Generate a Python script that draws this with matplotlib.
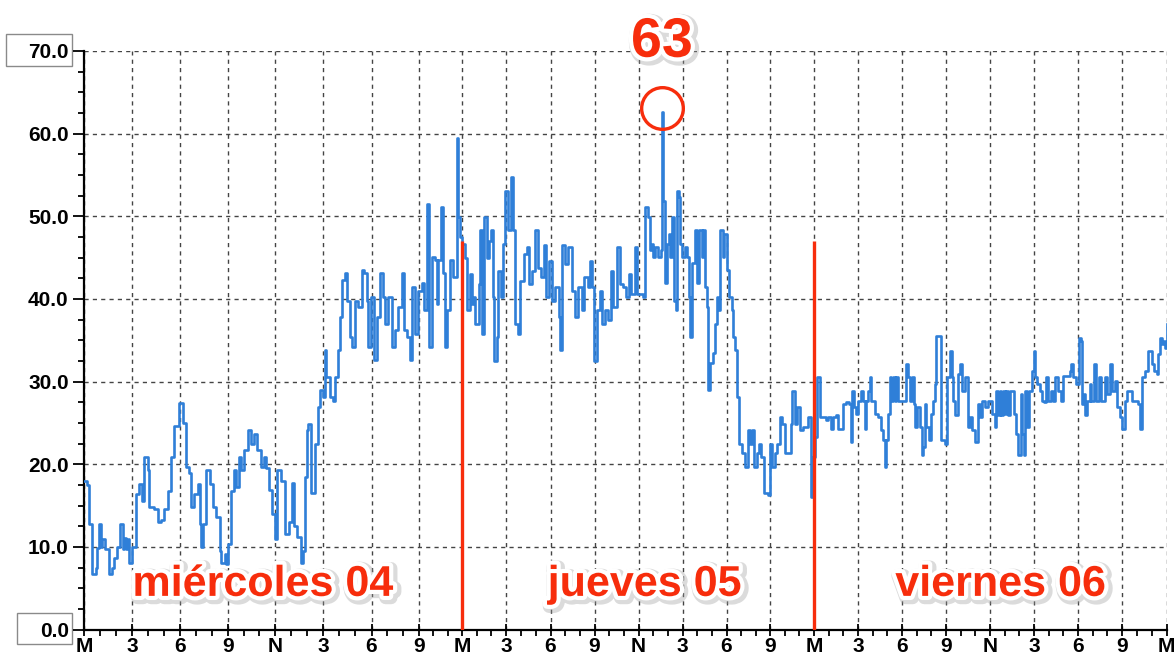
import numpy as np
import matplotlib
matplotlib.use("Agg")
import matplotlib.pyplot as plt
import matplotlib.patheffects as pe
from matplotlib.patches import Rectangle
from matplotlib.transforms import blended_transform_factory

# --- data (hours since Wednesday 00:00, level) ---
hours_d1 = [0.0, 0.17, 0.31, 0.52, 0.73, 0.84, 0.94, 1.05, 1.15, 1.30, 1.57, 1.72, 1.88, 2.09,
            2.26, 2.41, 2.51, 2.62, 2.72, 2.82, 3.03, 3.24, 3.45, 3.60, 3.77, 3.97, 4.08, 4.39,
            4.60, 4.81, 5.02, 5.23, 5.44, 5.65, 5.96, 6.17, 6.38, 6.59, 6.69, 6.90, 7.11, 7.22,
            7.32, 7.43, 7.64, 7.85, 8.05, 8.26, 8.47, 8.58, 8.79, 8.89, 9.00, 9.21, 9.41, 9.52,
            9.73, 9.83, 10.04, 10.25, 10.46, 10.67, 10.88, 11.09, 11.30, 11.45, 11.6, 11.8, 12.0,
            12.15, 12.4, 12.6, 12.85, 13.05, 13.2, 13.4, 13.6, 13.75, 13.86, 13.97, 14.07, 14.28,
            14.48, 14.69, 14.80, 15.0, 15.11, 15.21, 15.42, 15.63, 15.73, 15.94, 16.04, 16.19,
            16.35, 16.46, 16.67, 16.81, 16.98, 17.19, 17.40, 17.56, 17.71, 17.81, 17.98, 18.13,
            18.33, 18.54, 18.75, 18.85, 19.06, 19.27, 19.48, 19.69, 19.90, 20.06, 20.27, 20.42,
            20.56, 20.73, 20.94, 21.19, 21.37, 21.53, 21.70, 21.88, 22.12, 22.23, 22.35, 22.51,
            22.70, 22.81, 22.93, 23.16, 23.40, 23.63, 23.74, 23.85]
level_d1 = [18.0, 17.5, 12.8, 6.7, 7.5, 9.9, 12.8, 10.0, 11.0, 9.7, 6.7, 7.5, 8.7, 10.0,
            12.8, 9.7, 11.1, 9.7, 11.0, 8.1, 10.0, 16.4, 17.6, 15.6, 20.9, 19.3, 14.8, 14.6,
            13.0, 13.2, 14.6, 16.8, 20.9, 24.6, 27.4, 25.0, 19.7, 18.9, 14.8, 16.4, 17.6, 12.8,
            10.0, 12.8, 19.3, 17.6, 14.8, 13.6, 9.5, 8.1, 9.1, 7.9, 10.3, 16.8, 19.3, 17.3,
            20.9, 19.3, 21.7, 24.1, 22.5, 23.7, 21.7, 19.7, 20.9, 19.5, 16.9, 14.0, 11.0,
            19.3, 18.0, 11.5, 13.0, 17.7, 12.5, 11.2, 8.0, 9.5, 18.5, 24.1, 24.9, 16.5,
            22.5, 26.9, 29.0, 28.1, 33.8, 30.6, 28.1, 27.7, 30.6, 33.8, 37.8, 42.3,
            43.1, 39.8, 35.4, 34.2, 39.8, 39.0, 43.5, 43.1, 39.8, 34.2, 40.2, 32.6,
            37.8, 43.1, 40.2, 37.0, 40.2, 34.2, 36.2, 39.0, 43.1, 36.2, 35.4, 32.6,
            41.4, 35.8, 41.0, 41.9, 38.6, 51.5, 34.2, 45.1, 44.7, 39.4, 44.7, 51.1,
            43.1, 34.2, 38.6, 44.7, 42.7, 59.5, 49.9, 47.5]

hours_d2 = [23.98, 24.23, 24.34, 24.56, 24.68, 24.79, 24.90, 25.13, 25.24, 25.35, 25.53, 25.69,
            25.81, 25.99, 26.08, 26.21, 26.37, 26.48, 26.66, 26.82, 26.93, 27.16, 27.34, 27.50,
            27.61, 27.79, 27.95, 28.18, 28.40, 28.56, 28.74, 28.97, 29.19, 29.37, 29.53, 29.69,
            29.87, 30.09, 30.32, 30.55, 30.66, 30.77, 31.0, 31.22, 31.45, 31.67, 31.90, 32.13,
            32.31, 32.53, 32.69, 32.85, 32.98, 33.14, 33.37, 33.48, 33.71, 33.93, 34.11, 34.27,
            34.50, 34.72, 34.95, 35.17, 35.33, 35.51, 35.74, 35.92, 36.11, 36.34, 36.45, 36.64,
            36.80, 36.91, 37.02, 37.14, 37.36, 37.55, 37.59, 37.70, 37.82, 37.93, 38.05, 38.16,
            38.27, 38.39, 38.55, 38.61, 38.73, 38.84, 38.95, 39.14, 39.30, 39.41, 39.52, 39.64,
            39.82, 39.98, 40.14, 40.32, 40.43, 40.55, 40.66, 40.77, 40.89, 41.05, 41.23, 41.34,
            41.45, 41.57, 41.73, 41.86, 42.02, 42.14, 42.36, 42.48, 42.59, 42.70, 42.86, 43.05,
            43.27, 43.45, 43.61, 43.77, 43.91, 44.07, 44.23, 44.41, 44.59, 44.86, 44.98, 45.14,
            45.32, 45.50, 45.66, 45.82, 46.0, 46.18, 46.41, 46.5, 46.68, 46.86, 47.02, 47.25,
            47.48, 47.59, 47.77, 47.93]
level_d2 = [46.7, 45.0, 38.6, 43.0, 39.4, 40.2, 37.0, 41.8, 48.3, 35.8, 49.9, 45.0,
            47.0, 48.3, 40.2, 32.5, 35.4, 43.4, 40.2, 46.7, 53.1, 48.3, 54.7, 48.3,
            37.0, 35.8, 42.2, 45.4, 46.3, 41.8, 43.4, 48.3, 43.8, 42.6, 46.5, 40.2,
            44.6, 39.8, 41.4, 37.8, 33.8, 46.5, 44.2, 46.3, 41.0, 37.8, 41.4, 38.6,
            42.6, 41.4, 44.6, 41.4, 32.5, 38.6, 41.0, 37.0, 38.6, 37.4, 43.4, 39.0,
            46.3, 41.8, 41.4, 40.2, 43.0, 40.6, 46.3, 40.6, 40.6, 40.2, 51.1, 49.9,
            45.9, 46.7, 45.1, 46.3, 45.1, 45.9, 62.6, 51.9, 41.9, 46.7, 47.9, 45.1,
            49.9, 39.8, 38.6, 53.1, 52.3, 46.7, 45.1, 46.3, 45.1, 40.2, 35.4, 44.3,
            48.3, 41.9, 48.3, 45.1, 48.3, 41.5, 39.0, 29.0, 32.2, 33.4, 37.0, 40.2,
            38.6, 48.3, 45.1, 47.9, 43.5, 40.2, 38.6, 35.4, 33.8, 28.1, 22.5, 21.3,
            19.7, 24.1, 22.5, 24.1, 19.7, 21.3, 22.5, 20.9, 16.5, 16.3, 22.5, 19.7,
            21.3, 22.5, 25.7, 24.9, 21.3, 21.3, 24.9, 28.9, 24.9, 26.9, 24.1, 24.5,
            24.5, 25.7, 16.0, 20.9]

hours_d3 = [48.05, 48.23, 48.39, 48.61, 48.84, 48.95, 49.13, 49.29, 49.52, 49.63, 49.86, 49.97,
            50.20, 50.36, 50.50, 50.59, 50.73, 50.89, 51.0, 51.18, 51.34, 51.46, 51.57, 51.68,
            51.80, 51.91, 52.14, 52.37, 52.59, 52.71, 52.82, 52.94, 53.05, 53.16, 53.28, 53.39,
            53.51, 53.62, 53.73, 54.30, 54.42, 54.53, 54.69, 54.83, 54.92, 55.05, 55.21, 55.33,
            55.44, 55.56, 55.67, 55.83, 55.97, 56.13, 56.24, 56.35, 56.69, 56.92, 57.04, 57.26,
            57.38, 57.49, 57.61, 57.79, 57.95, 58.11, 58.29, 58.47, 58.63, 58.79, 58.97, 59.15,
            59.31, 59.43, 59.66, 59.88, 60.11, 60.32, 60.43, 60.55, 60.66, 60.77, 60.89, 61.0,
            61.11, 61.23, 61.34, 61.64, 61.80, 61.91, 62.09, 62.18, 62.32, 62.41, 62.55, 62.64,
            62.86, 63.0, 63.09, 63.23, 63.39, 63.55, 63.68, 63.84, 63.95, 64.14, 64.30, 64.45,
            64.64, 64.82, 64.98, 65.43, 65.55, 65.66, 65.89, 66.05, 66.18, 66.27, 66.41, 66.5,
            66.64, 66.80, 66.91, 67.09, 67.25, 67.41, 67.59, 67.82, 68.0, 68.16, 68.32, 68.5,
            68.68, 68.84, 69.0, 69.18, 69.36, 69.68, 70.09, 70.2, 70.32, 70.55, 70.73, 71.0,
            71.18, 71.34, 71.45, 71.57, 71.68, 71.80, 71.91, 72.0]
level_d3 = [23.3, 30.6, 25.7, 25.7, 25.3, 25.7, 24.3, 25.7, 25.9, 24.3, 24.3, 27.3,
            27.5, 27.3, 22.7, 28.9, 26.9, 26.1, 27.7, 28.9, 27.7, 24.3, 27.7, 28.9,
            30.5, 27.7, 26.1, 25.7, 24.1, 22.9, 19.7, 22.9, 26.1, 30.5, 27.7, 30.5,
            27.7, 30.5, 27.7, 32.1, 30.5, 27.7, 30.5, 27.3, 24.5, 26.9, 24.5, 21.1,
            22.1, 27.3, 24.5, 22.9, 26.1, 27.7, 29.7, 35.5, 22.9, 22.5, 30.5, 33.7,
            30.5, 27.7, 25.9, 30.9, 32.1, 28.9, 30.5, 24.5, 25.7, 24.1, 22.7, 27.3,
            25.7, 27.7, 26.9, 27.7, 26.1, 24.5, 28.9, 25.9, 28.9, 25.9, 28.9, 26.1,
            28.9, 25.9, 28.9, 26.1, 23.7, 21.1, 28.5, 23.7, 21.1, 28.9, 24.5, 28.9,
            31.3, 33.7, 30.5, 29.7, 28.9, 27.7, 27.5, 30.5, 27.7, 28.9, 27.7, 30.5,
            28.9, 27.7, 30.7, 31.3, 32.1, 30.5, 29.7, 35.3, 34.9, 27.3, 28.5, 25.9,
            27.7, 29.7, 27.7, 32.1, 27.7, 30.5, 27.7, 30.5, 28.5, 32.1, 28.9, 30.1,
            26.9, 25.7, 24.3, 27.7, 28.9, 27.7, 27.3, 24.3, 30.5, 31.3, 33.7, 32.1,
            31.3, 30.9, 33.3, 35.3, 34.5, 34.9, 34.1, 37.0]

day_labels = ["miércoles 04", "jueves 05", "viernes 06"]
day_starts = [24, 48]
tick_hours = list(range(0, 73, 3))
tick_labels = ["M", "3", "6", "9", "N", "3", "6", "9"] * 3 + ["M"]

hours = np.array(hours_d1 + hours_d2 + hours_d3)
level = np.array(level_d1 + level_d2 + level_d3)

# the original time axis is not evenly spaced (first day is a bit wider)
tick_pos = [84, 132, 180, 228, 275, 323, 371.5, 419, 462, 506, 550.5, 594.5, 638.5,
            682.5, 726.5, 770, 814, 858, 902, 946, 990, 1034, 1078, 1122, 1166.5]


def fwd(x):
    return np.interp(x, tick_hours, tick_pos)


def inv(p):
    return np.interp(p, tick_pos, tick_hours)


BLUE = "#2f7fd8"
RED = "#f72d0c"
W, H = 1176, 661

fig = plt.figure(figsize=(W / 100, H / 100), dpi=100)
ax = fig.add_axes([84 / W, 1 - 629.5 / H, (1166.5 - 84) / W, (629.5 - 51) / H])
ax.set_xscale("function", functions=(fwd, inv))

ax.plot(hours, level, color=BLUE, lw=1.9, drawstyle="steps-post", zorder=3)

ax.set_xlim(0, 72)
ax.set_ylim(0, 70)

ax.set_xticks(tick_hours)
ax.set_xticklabels(tick_labels)
ax.set_xticks(range(0, 73), minor=True)
ax.set_yticks(range(0, 71, 10))
ax.set_yticklabels(["%.1f" % v for v in range(0, 71, 10)])
ax.set_yticks(np.arange(0, 70.1, 2.5), minor=True)

tick_font = dict(family=["Liberation Sans", "DejaVu Sans"], weight="bold", size=15)
for lbl in ax.get_xticklabels() + ax.get_yticklabels():
    lbl.set_fontproperties(matplotlib.font_manager.FontProperties(**tick_font))

ax.tick_params(axis="y", which="major", direction="out", length=8, width=1.3, pad=3)
ax.tick_params(axis="y", which="minor", direction="out", length=4, width=1.3)
ax.tick_params(axis="x", which="major", direction="inout", length=8, width=1.3, pad=1.5)
ax.tick_params(axis="x", which="minor", direction="out", length=4, width=1.3)

# framed boxes behind the top and bottom value labels
trans = blended_transform_factory(fig.transFigure, ax.transData)
for yv, x0 in ((70, 6), (0, 17)):
    ax.add_patch(Rectangle((x0 / W, yv - 1.8), (72 - x0) / W, 3.8, transform=trans,
                           facecolor="white", edgecolor="#8a8a8a", lw=1, clip_on=False, zorder=0.5))

for s in ("top", "right"):
    ax.spines[s].set_visible(False)
for s in ("left", "bottom"):
    ax.spines[s].set_linewidth(1.6)

ax.grid(True, which="major", ls=(0, (3, 3)), color="#444444", lw=1)
ax.set_axisbelow(True)

# red day separators
for d in day_starts:
    ax.plot([d, d], [0, 47], color=RED, lw=2.4, zorder=4, solid_capstyle="butt")

# peak marker
ipk = int(np.argmax(level))
ax.plot(hours[ipk], level[ipk] + 0.5, "o", ms=30, mfc="none", mec=RED, mew=2.4, zorder=5, clip_on=False)

effects = [pe.Stroke(linewidth=9, foreground="#9a9a9a", alpha=0.35, offset=(1.5, -1.5)),
           pe.Stroke(linewidth=6, foreground="white"), pe.Normal()]
big_font = dict(family=["Liberation Sans", "DejaVu Sans"], weight="bold", color=RED,
                ha="center", va="center", path_effects=effects, zorder=6)

ax.text(hours[ipk], 71.0, "%d" % round(level[ipk]), fontsize=40, **big_font)
for xc, txt in zip([11.2, 36.4, 60.7], day_labels):
    ax.text(xc, 5.4, txt, fontsize=31, **big_font)

fig.savefig("out.png", dpi=100)
